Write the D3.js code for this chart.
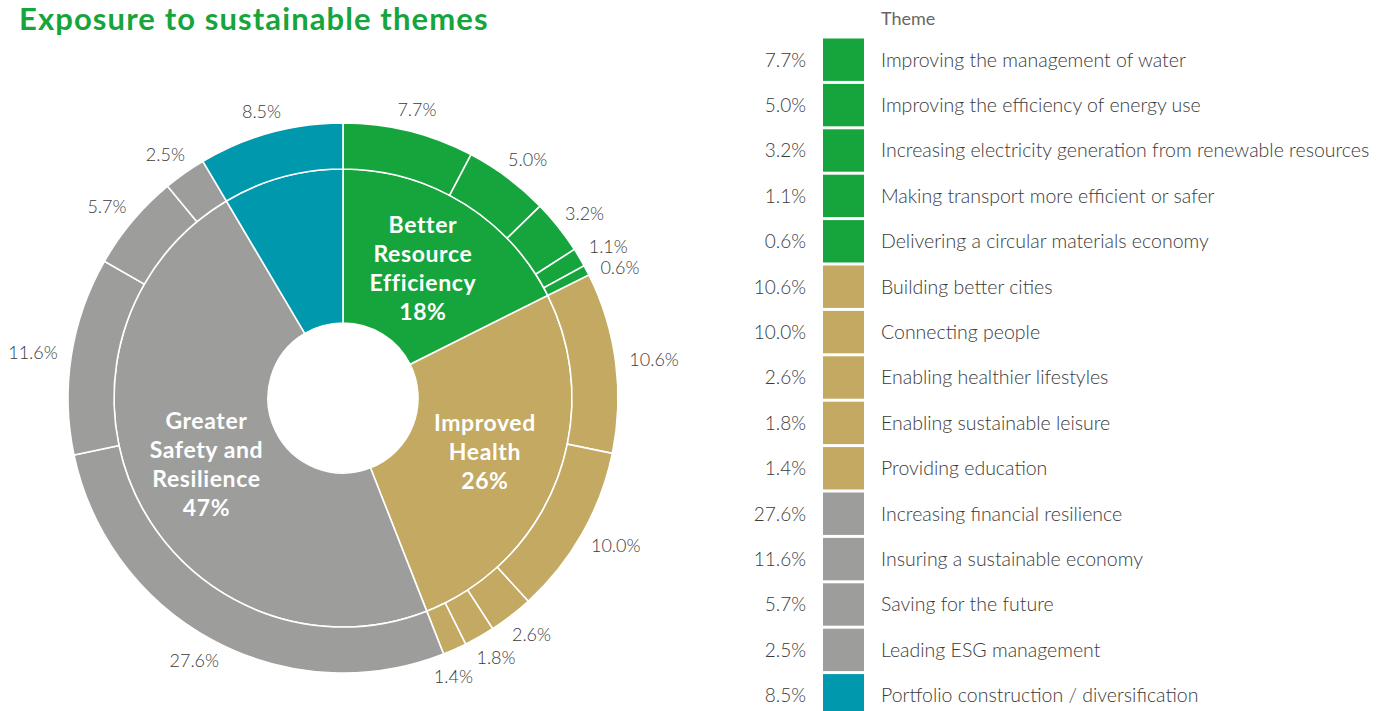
<!DOCTYPE html>
<html>
<head>
<meta charset="utf-8">
<script src="https://cdn.jsdelivr.net/npm/d3@7"></script>
<style>
  body { margin: 0; background: #fff; }
  svg { display: block; font-family: Lato, "Open Sans", sans-serif; }
</style>
</head>
<body>
<svg id="chart" width="1378" height="711"></svg>
<script>
// Themes (outer ring), in clockwise order starting at 12 o'clock
const themes = [
    "Improving the management of water",
    "Improving the efficiency of energy use",
    "Increasing electricity generation from renewable resources",
    "Making transport more efficient or safer",
    "Delivering a circular materials economy",
    "Building better cities",
    "Connecting people",
    "Enabling healthier lifestyles",
    "Enabling sustainable leisure",
    "Providing education",
    "Increasing financial resilience",
    "Insuring a sustainable economy",
    "Saving for the future",
    "Leading ESG management",
    "Portfolio construction / diversification"
];
const themeValues = [7.7, 5.0, 3.2, 1.1, 0.6, 10.6, 10.0, 2.6, 1.8, 1.4, 27.6, 11.6, 5.7, 2.5, 8.5];
const themeGroup = [0, 0, 0, 0, 0, 1, 1, 1, 1, 1, 2, 2, 2, 2, 3];

// Groups (inner ring)
const groups = ["Better Resource Efficiency", "Improved Health", "Greater Safety and Resilience", "Portfolio construction"];
const groupLines = [["Better", "Resource", "Efficiency"], ["Improved", "Health"], ["Greater", "Safety and", "Resilience"], []];
const groupColors = ["#16a53d", "#c3a961", "#9d9d9c", "#0098ad"];

const svg = d3.select("#chart");
const cx = 343, cy = 398;
const rHole = 75, rMid = 229, rOuter = 275;

// Title
svg.append("text")
    .attr("x", 19).attr("y", 30)
    .attr("font-size", "31px").attr("font-weight", "bold")
    .attr("letter-spacing", "1.1px")
    .attr("fill", "#16a53d")
    .text("Exposure to sustainable themes");

const g = svg.append("g").attr("transform", `translate(${cx},${cy})`);

// Sum the themes into their groups
const groupValues = groups.map((name, i) =>
    d3.sum(themeValues.filter((v, j) => themeGroup[j] == i)));

const pie = d3.pie().sort(null).value(d => d);
const outerArcs = pie(themeValues);
const innerArcs = pie(groupValues);

const outerArc = d3.arc().innerRadius(rMid).outerRadius(rOuter);
const innerArc = d3.arc().innerRadius(rHole).outerRadius(rMid);

g.selectAll("path.inner")
    .data(innerArcs)
    .enter().append("path")
    .attr("class", "inner")
    .attr("d", innerArc)
    .attr("fill", (d, i) => groupColors[i])
    .attr("stroke", "#fff")
    .attr("stroke-width", 1.6);

g.selectAll("path.outer")
    .data(outerArcs)
    .enter().append("path")
    .attr("class", "outer")
    .attr("d", outerArc)
    .attr("fill", (d, i) => groupColors[themeGroup[i]])
    .attr("stroke", "#fff")
    .attr("stroke-width", 1.6);

// Group labels inside the inner ring
const lineH = 29;
innerArcs.forEach((d, i) => {
    const lines = groupLines[i];
    if (!lines.length) return;
    const all = lines.concat([Math.round(groupValues[i]) + "%"]);
    const [x, y] = innerArc.centroid(d);
    const t = g.append("text")
        .attr("text-anchor", "middle")
        .attr("font-size", "23px").attr("font-weight", "bold")
        .attr("letter-spacing", "0.6px")
        .attr("fill", "#fff");
    all.forEach((s, k) => {
        t.append("tspan")
            .attr("x", x)
            .attr("y", y + (k - (all.length - 1) / 2) * lineH + 8)
            .text(s);
    });
});

// Percentage labels round the outside; a label that collides with the
// previous ones slides further round the ring until it is clear
const gap = 14, labelH = 18;
const placed = [];
outerArcs.forEach((d, i) => {
    let a = (d.startAngle + d.endAngle) / 2;
    const t = g.append("text")
        .attr("text-anchor", "middle")
        .attr("dominant-baseline", "central")
        .attr("font-size", "18px").attr("font-weight", 300)
        .attr("fill", "#3a3a3a")
        .text(themeValues[i].toFixed(1) + "%");
    const w = t.node().getComputedTextLength();
    const r = rOuter + gap;
    let x, y;
    for (let k = 0; k < 60; k++) {
        const sx = Math.sin(a), sy = -Math.cos(a);
        x = r * sx + sx * w / 2;
        y = r * sy + sy * labelH / 2;
        const hit = placed.some(p =>
            Math.abs(p.x - x) < (p.w + w) / 2 + 1 && Math.abs(p.y - y) < labelH + 1);
        if (!hit) break;
        a += Math.PI / 360;
    }
    placed.push({ x, y, w });
    t.attr("x", x).attr("y", y);
});

// Legend table
const rowH = 45.4;
const legendTop = 37;
const legend = svg.append("g");

legend.append("text")
    .attr("x", 881).attr("y", 25)
    .attr("font-size", "18px").attr("font-weight", "normal")
    .attr("fill", "#666")
    .text("Theme");

const rows = legend.selectAll("g.row")
    .data(themes)
    .enter().append("g")
    .attr("class", "row")
    .attr("transform", (d, i) => `translate(0,${legendTop + i * rowH})`);

rows.append("rect")
    .attr("x", 823).attr("y", 1.5)
    .attr("width", 41).attr("height", rowH - 3)
    .attr("fill", (d, i) => groupColors[themeGroup[i]]);

rows.append("text")
    .attr("x", 806).attr("y", rowH / 2 + 7)
    .attr("text-anchor", "end")
    .attr("font-size", "19px").attr("font-weight", 300)
    .attr("fill", "#3a3a3a")
    .text((d, i) => themeValues[i].toFixed(1) + "%");

rows.append("text")
    .attr("x", 881).attr("y", rowH / 2 + 7)
    .attr("font-size", "19.5px").attr("font-weight", 300)
    .attr("fill", "#3a3a3a")
    .text(d => d);
</script>
</body>
</html>
